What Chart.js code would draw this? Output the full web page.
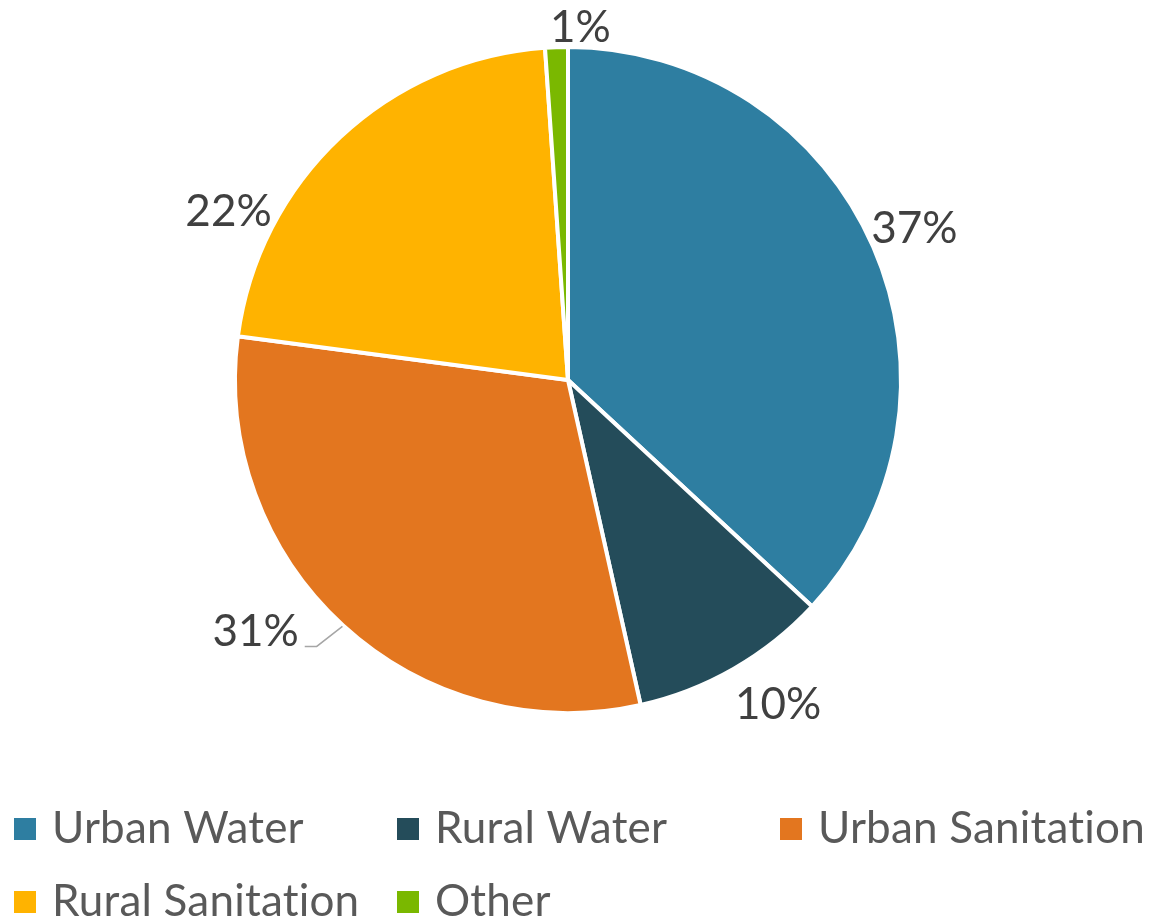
<!DOCTYPE html>
<html>
<head>
<meta charset="utf-8">
<script src="https://cdn.jsdelivr.net/npm/chart.js@4.4.0/dist/chart.umd.min.js"></script>
<style>
html, body { margin: 0; padding: 0; background: #fff; }
#wrap { width: 1149px; height: 920px; position: relative; }
</style>
</head>
<body>
<div id="wrap"><canvas id="pieChart"></canvas></div>
<script>
var categories = ["Urban Water", "Rural Water", "Urban Sanitation", "Rural Sanitation", "Other"];
var shares = [36.9, 9.6, 30.6, 21.8, 1.1];
var percentLabels = ["37%", "10%", "31%", "22%", "1%"];
var sliceColors = ["#2e7ea1", "#244c5a", "#e3761f", "#ffb300", "#7ab800"];

// label nudges, Excel "best fit" style: extra turn in degrees, gap past the rim in px
var labelTurn = [0, -3, 8.7, -20.4, 4];
var labelGap = [45, 54, 68, 46, 19];
var hasLeader = [false, false, true, false, false];

var FONT = "Lato, 'Open Sans', sans-serif";

var outsideLabels = {
    id: 'outsideLabels',
    afterDatasetsDraw: function(chart) {
        var ctx = chart.ctx;
        var arcs = chart.getDatasetMeta(0).data;
        ctx.save();
        ctx.font = "44px " + FONT;
        ctx.textAlign = 'center';
        ctx.textBaseline = 'middle';
        arcs.forEach(function(arc, i) {
            var mid = (arc.startAngle + arc.endAngle) / 2;
            var a = mid + labelTurn[i] * Math.PI / 180;
            var d = arc.outerRadius + labelGap[i];
            var x = arc.x + Math.cos(a) * d;
            var y = arc.y + Math.sin(a) * d;
            if (hasLeader[i]) {
                var w = ctx.measureText(percentLabels[i]).width;
                var ex = arc.x + Math.cos(mid) * (arc.outerRadius + 1);
                var ey = arc.y + Math.sin(mid) * (arc.outerRadius + 1);
                ctx.strokeStyle = '#a6a6a6';
                ctx.lineWidth = 1.5;
                ctx.beginPath();
                ctx.moveTo(ex, ey);
                ctx.lineTo(x + w / 2 + 18, y + 15);
                ctx.lineTo(x + w / 2 + 6, y + 15);
                ctx.stroke();
            }
            ctx.fillStyle = '#404040';
            ctx.fillText(percentLabels[i], x, y);
        });
        ctx.restore();
    }
};

var gridLegend = {
    id: 'gridLegend',
    afterDraw: function(chart) {
        var ctx = chart.ctx;
        var cols = [14, 397, 780];
        var rows = [829, 902];
        ctx.save();
        ctx.font = "44px " + FONT;
        ctx.letterSpacing = '0.2px'; // keeps "ti" from joining into a ligature
        ctx.textAlign = 'left';
        ctx.textBaseline = 'middle';
        chart.data.labels.forEach(function(label, i) {
            var x = cols[i % 3];
            var y = rows[Math.floor(i / 3)];
            ctx.fillStyle = chart.data.datasets[0].backgroundColor[i];
            ctx.fillRect(x, y - 11, 22, 22);
            ctx.fillStyle = '#595959';
            ctx.fillText(label, x + 38, y);
        });
        ctx.restore();
    }
};

var pie = document.getElementById('pieChart');
var chart1 = new Chart(pie, {
    type: 'pie',
    data: {
        labels: categories,
        datasets: [{
            data: shares,
            backgroundColor: sliceColors,
            borderColor: '#ffffff',
            borderWidth: 4
        }]
    },
    options: {
        responsive: true,
        maintainAspectRatio: false,
        animation: false,
        layout: {
            padding: { left: 0, right: 13, top: 45, bottom: 205 }
        },
        plugins: {
            legend: { display: false },
            tooltip: { enabled: false }
        }
    },
    plugins: [outsideLabels, gridLegend]
});
</script>
</body>
</html>
